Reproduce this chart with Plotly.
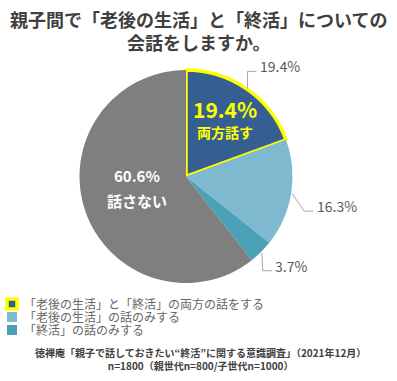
import math
import plotly.graph_objects as go

# ---- data ----
categories = ["「老後の生活」と「終活」の両方の話をする", "「老後の生活」の話のみする", "「終活」の話のみする", "話さない"]
values = [19.4, 16.3, 3.7, 60.6]
value_labels = ["19.4%", "16.3%", "3.7%", "60.6%"]
inner_names = ["両方話す", "", "", "話さない"]
title_lines = ["親子間で「老後の生活」と「終活」についての", "会話をしますか。"]
source_lines = ["徳禅庵「親子で話しておきたい“終活”に関する意識調査」（2021年12月）",
                "n=1800（親世代n=800/子世代n=1000）"]

# ---- style ----
W, H = 397, 381
colors = ["#365F91", "#7FB9CF", "#4AA0B6", "#7F7F7F"]
FONT = "Noto Sans CJK JP"
cx, cy, r = 186.0, 176.5, 106.5

fig = go.Figure()
fig.add_trace(go.Pie(
    values=values, labels=categories, sort=False, direction="clockwise", rotation=0,
    marker=dict(colors=colors, line=dict(color=["#FFFF00", "rgba(0,0,0,0)", "rgba(0,0,0,0)", "rgba(0,0,0,0)"],
                                         width=[3.5, 0, 0, 0])),
    textinfo="none", hoverinfo="skip", showlegend=False,
    domain=dict(x=[(cx - r) / W, (cx + r) / W], y=[1 - (cy + r) / H, 1 - (cy - r) / H]),
))

total = sum(values)
cum = 0
mids = []
for v in values:
    mids.append((cum + v / 2) / total * 2 * math.pi)
    cum += v

def pt(theta, d):
    return cx + d * math.sin(theta), cy - d * math.cos(theta)

shapes = []
annotations = []

# outside labels with leader lines (first three slices)
elbows = [(0, -17), (12, 17.5), (1, 18)]
for i in range(3):
    ex, ey = pt(mids[i], r + 1)
    bx, by = ex + elbows[i][0], ey + elbows[i][1]
    lx = bx + 9
    shapes.append(dict(type="path", xref="x", yref="y",
                       path=f"M{ex},{ey} L{bx},{by} L{lx},{by}",
                       line=dict(color="#A6A6A6", width=1)))
    annotations.append(dict(x=lx + 1.5, y=by - 5, xref="x", yref="y", text=value_labels[i],
                            showarrow=False, xanchor="left", yanchor="middle",
                            font=dict(family=FONT, size=14, color="#595959")))

# inside labels: (slice, angle shift, radius fraction, colour, size1, size2, dy1, dy2)
inner = [(0, 0.0, 0.645, "#FFFF00", 21, 14, -11.5, 12),
         (3, math.radians(6), 0.47, "#FFFFFF", 15, 15, -12, 12.5)]
for i, dth, frac, col, s1, s2, d1, d2 in inner:
    tx, ty = pt(mids[i] + dth, r * frac)
    annotations.append(dict(x=tx, y=ty + d1, xref="x", yref="y", text=f"<b>{value_labels[i]}</b>",
                            showarrow=False, font=dict(family=FONT, size=s1, color=col)))
    annotations.append(dict(x=tx, y=ty + d2, xref="x", yref="y", text=f"<b>{inner_names[i]}</b>",
                            showarrow=False, font=dict(family=FONT, size=s2, color=col)))

# title (one block, two lines)
annotations.append(dict(x=W / 2, y=30, xref="x", yref="y",
                        text="<br>".join(f"<b>{t}</b>" for t in title_lines),
                        showarrow=False, font=dict(family=FONT, size=18, color="#404040")))

# legend (manual)
for k in range(3):
    y0 = 299 + 13 * k
    if k == 0:
        shapes.append(dict(type="rect", xref="x", yref="y", x0=7, x1=17, y0=y0, y1=y0 + 10,
                           fillcolor=colors[0], line=dict(color="#FFFF00", width=3.5)))
    else:
        shapes.append(dict(type="rect", xref="x", yref="y", x0=7, x1=17, y0=y0, y1=y0 + 10,
                           fillcolor=colors[k], line=dict(width=0)))
    annotations.append(dict(x=22, y=y0 + 4.5, xref="x", yref="y", text=categories[k],
                            showarrow=False, xanchor="left", yanchor="middle", height=13,
                            font=dict(family=FONT, size=12, color="#666666")))

# source (one block, two lines)
annotations.append(dict(x=W / 2 + 2, y=358.5, xref="x", yref="y",
                        text="<br>".join(f"<b>{t}</b>" for t in source_lines),
                        showarrow=False, font=dict(family=FONT, size=10, color="#404040")))

fig.update_layout(
    width=W, height=H, margin=dict(l=0, r=0, t=0, b=0),
    paper_bgcolor="white", plot_bgcolor="rgba(0,0,0,0)",
    xaxis=dict(range=[0, W], visible=False, fixedrange=True, domain=[0, 1]),
    yaxis=dict(range=[H, 0], visible=False, fixedrange=True, domain=[0, 1]),
    shapes=shapes, annotations=annotations, showlegend=False,
)
fig.write_html("out.html", config={"displayModeBar": False},
               post_script="document.body.style.margin='0';document.body.style.overflow='hidden';")
